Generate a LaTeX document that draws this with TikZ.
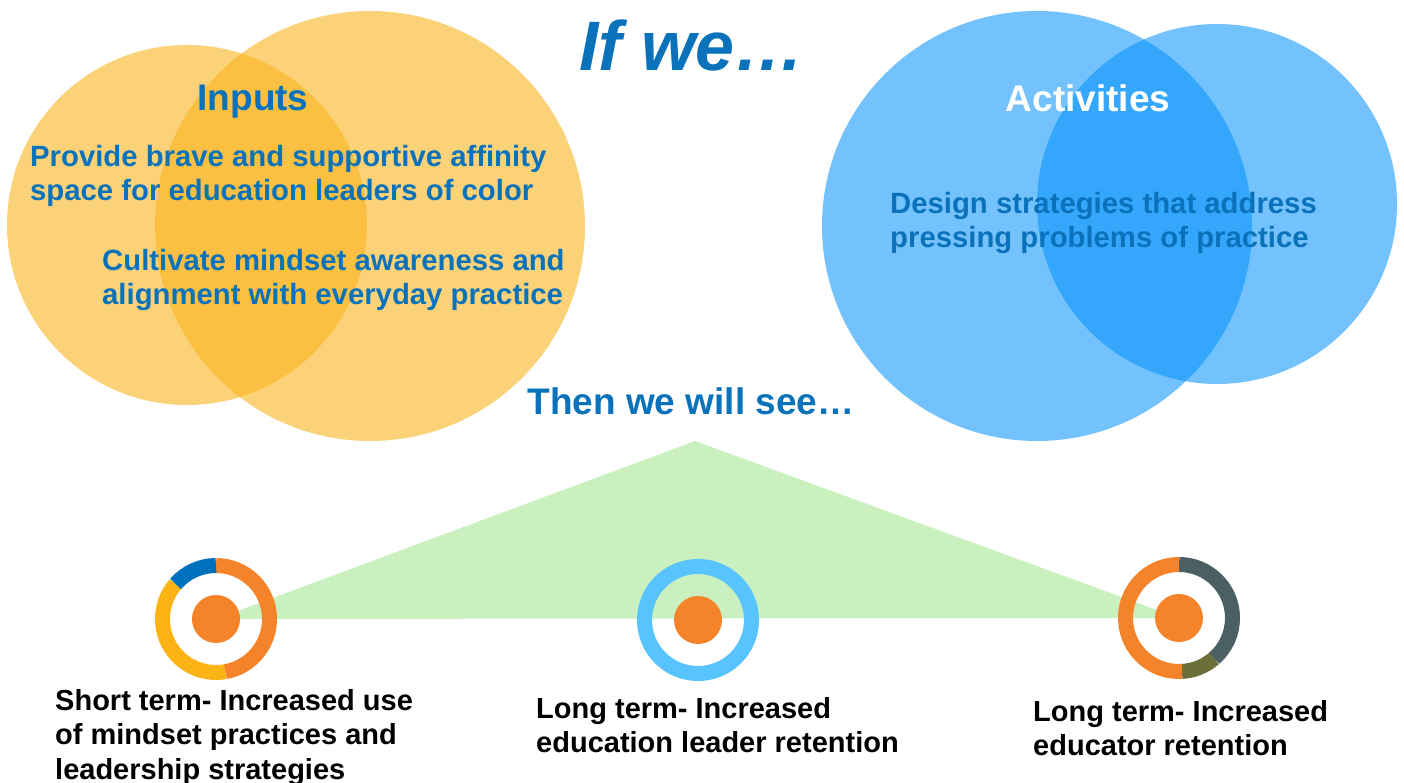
\documentclass[tikz,border=0pt]{standalone}
\usepackage{fontspec}
\setmainfont{Liberation Sans}
\definecolor{inorange}{RGB}{250,180,30}
\definecolor{actblue}{RGB}{0,144,252}
\definecolor{txtblue}{RGB}{10,114,186}
\definecolor{tri}{RGB}{202,240,192}
\definecolor{rorange}{RGB}{245,131,42}
\definecolor{ryellow}{RGB}{252,179,22}
\definecolor{rblue}{RGB}{0,113,188}
\definecolor{rsky}{RGB}{87,195,255}
\definecolor{rslate}{RGB}{74,96,98}
\definecolor{rolive}{RGB}{107,112,58}
\tikzset{
  incircle/.style={fill=inorange,fill opacity=0.6,draw=none},
  actcircle/.style={fill=actblue,fill opacity=0.55,draw=none},
  heading/.style={font=\fontsize{37}{40}\selectfont\bfseries,inner sep=0pt,anchor=base},
  bodytext/.style={font=\fontsize{29.3}{34}\selectfont\bfseries,text=txtblue,align=left,inner sep=0pt,anchor=north west},
  outcome/.style={font=\fontsize{29}{34.5}\selectfont\bfseries,text=black,align=left,inner sep=0pt,anchor=north west},
  dot/.style={circle,fill=rorange,draw=none,minimum size=48pt,inner sep=0pt},
}
% ring segment: centre, start angle, end angle, colour
\newcommand{\ringseg}[4]{%
  \draw[line width=15pt,#4] (#1) ++(#2:53.5) arc[start angle=#2,end angle=#3,radius=53.5];}
\begin{document}
\begin{tikzpicture}[x=1pt,y=-1pt]
\useasboundingbox (0,0) rectangle (1404,783);

% inputs
\fill[incircle] (187,225) circle (180);
\fill[incircle] (370,226) circle (215);
% activities
\fill[actcircle] (1037,226) circle (215);
\fill[actcircle] (1217,204) circle (180);

% outcome triangle
\coordinate (apex) at (695,441);
\coordinate (c1) at (216,619);
\coordinate (c2) at (698,620);
\coordinate (c3) at (1179,618);
\fill[tri] (apex) -- (c1) -- (c3) -- cycle;

% short term ring
\ringseg{c1}{-90}{80}{rorange}
\ringseg{c1}{-139}{-280}{ryellow}
\ringseg{c1}{-90}{-139}{rblue}
\node[dot] (d1) at (c1) {};
% long term ring (middle)
\draw[line width=15pt,rsky] (c2) circle (53.5);
\node[dot] (d2) at (c2) {};
% long term ring (right)
\ringseg{c3}{-90}{49}{rslate}
\ringseg{c3}{49}{87}{rolive}
\ringseg{c3}{87}{270}{rorange}
\node[dot] (d3) at (c3) {};

% headings
\node[heading,font=\fontsize{70}{80}\selectfont\bfseries\itshape,text=txtblue] (title) at (692,71) {If we…};
\node[heading,text=txtblue] (inputs) at (253,111) {Inputs};
\node[heading,text=white] (activities) at (1088,112) {Activities};
\node[heading,text=txtblue] (then) at (691,414) {Then we will see…};

% body text
\node[bodytext] (provide) at (30,143) {\strut Provide brave and supportive affinity\\space for education leaders of color};
\node[bodytext] (cultivate) at (102,247) {\strut Cultivate mindset awareness and\\alignment with everyday practice};
\node[bodytext] (design) at (890,190) {\strut Design strategies that address\\pressing problems of practice};

% outcomes
\node[outcome] (short) at (55,686) {\strut Short term- Increased use\\of mindset practices and\\leadership strategies};
\node[outcome] (longa) at (536,694) {\strut Long term- Increased\\education leader retention};
\node[outcome] (longb) at (1033,697) {\strut Long term- Increased\\educator retention};
\end{tikzpicture}
\end{document}
